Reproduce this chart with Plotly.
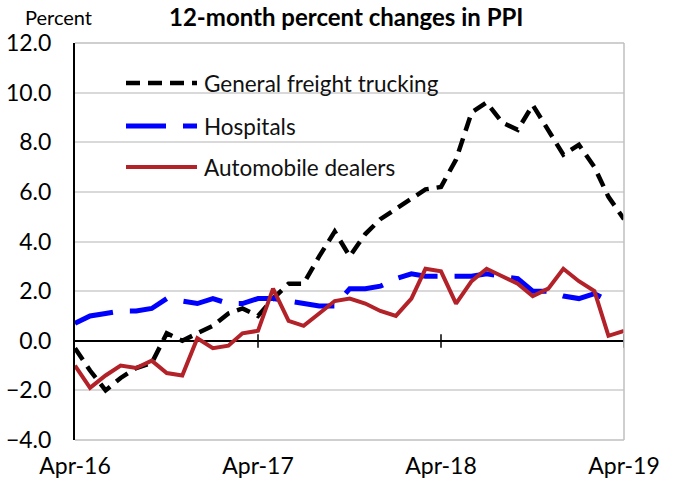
import plotly.graph_objects as go
import pandas as pd

months = pd.date_range("2016-04-01", "2019-04-01", freq="MS")

trucking = [-0.3, -1.2, -2.0, -1.5, -1.1, -0.9, 0.3, 0.0, 0.3, 0.6, 1.1, 1.3,
            1.0, 1.7, 2.3, 2.3, 3.4, 4.4, 3.4, 4.3, 4.9, 5.3, 5.7, 6.1,
            6.2, 7.3, 9.2, 9.6, 8.8, 8.5, 9.5, 8.5, 7.5, 7.9, 7.0, 5.8, 4.9]
hospitals = [0.7, 1.0, 1.1, 1.2, 1.2, 1.3, 1.7, 1.6, 1.5, 1.7, 1.5, 1.5,
             1.7, 1.7, 1.6, 1.5, 1.4, 1.4, 2.1, 2.1, 2.2, 2.5, 2.7, 2.6,
             2.6, 2.6, 2.6, 2.7, 2.6, 2.5, 2.0, 2.0, 1.8, 1.7, 1.9, 1.6]
autos = [-1.0, -1.9, -1.4, -1.0, -1.1, -0.8, -1.3, -1.4, 0.1, -0.3, -0.2, 0.3,
         0.4, 2.1, 0.8, 0.6, 1.1, 1.6, 1.7, 1.5, 1.2, 1.0, 1.7, 2.9,
         2.8, 1.5, 2.4, 2.9, 2.6, 2.3, 1.8, 2.1, 2.9, 2.4, 2.0, 0.2, 0.4]

series_names = ["General freight trucking", "Hospitals", "Automobile dealers"]
tick_dates = ["2016-04-01", "2017-04-01", "2018-04-01", "2019-04-01"]
tick_labels = ["Apr-16", "Apr-17", "Apr-18", "Apr-19"]
y_ticks = [-4, -2, 0, 2, 4, 6, 8, 10, 12]

FONT = "Lato"
BLACK_DASH = "14px,8px"
BLUE_DASH = "40px,17px"
RED = "#B22228"
BLUE = "#0000FF"

fig = go.Figure()
fig.add_trace(go.Scatter(x=months, y=trucking, mode="lines", name=series_names[0],
                         line=dict(color="black", width=4.5, dash=BLACK_DASH)))
fig.add_trace(go.Scatter(x=months[:len(hospitals)], y=hospitals, mode="lines", name=series_names[1],
                         line=dict(color=BLUE, width=5, dash=BLUE_DASH)))
fig.add_trace(go.Scatter(x=months, y=autos, mode="lines", name=series_names[2],
                         line=dict(color=RED, width=4)))

shapes = []
for d in tick_dates[1:]:
    shapes.append(dict(type="line", xref="x", yref="y", x0=d, x1=d, y0=-0.28, y1=0.26,
                       line=dict(color="black", width=1.5)))
shapes.append(dict(type="line", xref="paper", yref="paper", x0=0, x1=1, y0=1, y1=1,
                   line=dict(color="#BFBFBF", width=1.5)))
shapes.append(dict(type="line", xref="paper", yref="paper", x0=1, x1=1, y0=0, y1=1,
                   line=dict(color="#BFBFBF", width=1.5)))
shapes.append(dict(type="line", xref="paper", yref="paper", x0=0, x1=1, y0=0, y1=0,
                   line=dict(color="#BFBFBF", width=1.5)))

leg_y = [83, 126, 167]
leg_styles = [dict(color="black", width=4.5, dash=BLACK_DASH),
              dict(color=BLUE, width=5, dash=BLUE_DASH),
              dict(color=RED, width=4)]
W, H = 673, 480
L, R, T, B = 75, 49, 43, 40
pw, ph = W - L - R, H - T - B
def px(xp):
    return (xp - L) / pw
def py(yp):
    return 1 - (yp - T) / ph

annotations = []
for name, yp, st in zip(series_names, leg_y, leg_styles):
    shapes.append(dict(type="line", xref="paper", yref="paper", x0=px(126), x1=px(197),
                       y0=py(yp), y1=py(yp), line=st))
    annotations.append(dict(text=name, xref="paper", yref="paper", x=px(202), y=py(yp),
                            xanchor="left", yanchor="middle", showarrow=False,
                            font=dict(family=FONT, size=22.5, color="#111111")))

annotations.append(dict(text="<b>12-month percent changes in PPI</b>", xref="paper", yref="paper",
                        x=px(346), y=py(16), xanchor="center", yanchor="middle", showarrow=False,
                        font=dict(family=FONT, size=24, color="black")))
annotations.append(dict(text="Percent", xref="paper", yref="paper",
                        x=px(23), y=py(17), xanchor="left", yanchor="middle", showarrow=False,
                        font=dict(family=FONT, size=20, color="black")))

fig.update_layout(
    width=W, height=H,
    margin=dict(l=L, r=R, t=T, b=B, autoexpand=False),
    paper_bgcolor="white", plot_bgcolor="white",
    showlegend=False,
    font=dict(family=FONT, size=23, color="black"),
    shapes=shapes, annotations=annotations,
    xaxis=dict(range=[tick_dates[0], tick_dates[-1]], tickvals=tick_dates, ticktext=tick_labels,
               showgrid=False, zeroline=False, showline=False, automargin=False,
               ticks="outside", ticklen=5, tickcolor="rgba(0,0,0,0)",
               tickfont=dict(family=FONT, size=23)),
    yaxis=dict(range=[-4, 12], tickvals=y_ticks, tickformat=".1f", automargin=False,
               showgrid=True, gridcolor="#D9D9D9", gridwidth=1.5,
               zeroline=True, zerolinecolor="black", zerolinewidth=1.5,
               showline=True, linecolor="black", linewidth=2,
               ticks="outside", ticklen=17, tickcolor="rgba(0,0,0,0)",
               tickfont=dict(family=FONT, size=23)),
)

fig.write_html("out.html", config={"displayModeBar": False},
               post_script="document.body.style.margin='0';document.body.style.overflow='hidden';")
